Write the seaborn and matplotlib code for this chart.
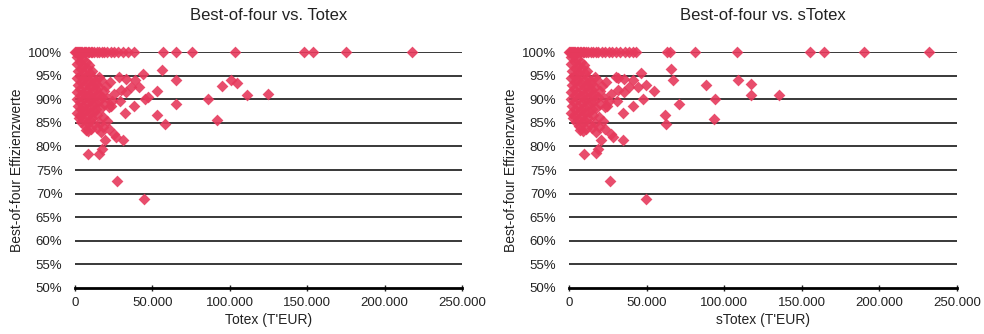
import numpy as np
import matplotlib
matplotlib.use("Agg")
import matplotlib.pyplot as plt
import matplotlib.ticker as mticker
import seaborn as sns

# Best-of-four efficiency (%) vs. Totex / sTotex (T'EUR)

# points on the 100% line
top_totex = [300, 800, 1200, 1800, 2500, 3200, 4000, 4800, 5600, 6500, 7400, 8300, 9200,
             10200, 11300, 12500, 14000, 15500, 17200, 19000, 21000, 23000, 25500, 28000,
             31000, 34000, 38200, 56600, 65000, 75600, 103500, 148000, 154000, 175000, 217600]
top_stotex = [300, 800, 1300, 1900, 2600, 3400, 4200, 5100, 6000, 7000, 8000, 9000, 10000,
              11200, 12500, 14000, 15600, 17300, 19000, 21000, 23200, 25500, 28000, 30500,
              33000, 35800, 38500, 41000, 43500, 63000, 65000, 81000, 108000, 155000,
              164000, 190000, 232000]

# dense cluster + scattered points below 100%
totex = [1000, 1500, 2000, 1200, 1800, 1000, 1500, 2000, 1200, 2500,
         3000, 3500, 4000, 3200, 3800, 3000, 3600, 3100, 3900, 3300, 4200,
         5000, 5500, 6000, 5200, 5800, 5100, 5700, 5300, 6100, 5500, 6300, 6800,
         7200, 7800, 7000, 7500, 8000, 7300, 7900, 7100, 7700, 8300,
         9000, 9500, 9200, 9800, 9100, 9600, 9300, 10000, 9400,
         11000, 11500, 11200, 11800, 11100, 11600, 12000, 11300, 12500,
         13000, 13500, 14000, 13200, 13800, 14500,
         15500, 16000, 15200, 16500, 17000, 17500, 18500, 19000, 20000, 21000,
         22500, 23000, 18000, 20500, 16000, 14000, 10500, 8500,
         56000, 65000, 44000, 95000, 101000, 104600, 111000, 125000, 86000, 91600,
         65000, 53000, 58000, 53000, 47000, 45000, 38000, 32000, 27400, 44700,
         8600, 15600, 17700, 19400, 16600, 22000, 25300, 30700, 26400, 18000,
         39000, 33000, 28500, 36000, 29600, 25300, 24000, 41500, 33000, 29000, 22000,
         15600, 13400]
eff_totex = [99.0, 97.5, 96.0, 94.5, 93.0, 91.5, 90.0, 88.5, 87.0, 86.0,
             99.2, 97.8, 96.4, 95.0, 93.6, 92.2, 90.8, 89.4, 88.0, 86.6, 85.2,
             98.6, 97.0, 95.6, 94.2, 92.8, 91.4, 90.0, 88.6, 87.2, 85.8, 84.4, 83.5,
             98.0, 96.6, 95.0, 93.4, 92.0, 90.6, 89.2, 87.8, 86.4, 85.0,
             97.2, 95.6, 94.0, 92.6, 91.2, 89.8, 88.4, 87.0, 85.6,
             96.0, 94.6, 93.0, 91.6, 90.2, 88.8, 87.4, 86.0, 84.8,
             93.8, 92.2, 90.8, 89.4, 88.0, 86.6,
             92.6, 91.0, 89.6, 88.2, 94.0, 90.4, 91.8, 89.0, 92.8, 90.2,
             93.6, 88.6, 86.2, 85.4, 85.0, 84.0, 83.8, 83.2,
             96.3, 94.1, 95.4, 92.9, 94.0, 93.4, 90.8, 91.2, 90.1, 85.7,
             89.0, 86.6, 84.8, 91.7, 90.5, 90.0, 88.5, 87.1, 72.6, 68.9,
             78.4, 78.4, 79.5, 81.3, 83.0, 83.7, 82.7, 81.3, 82.0, 84.1,
             94.0, 94.3, 94.7, 92.7, 91.9, 91.2, 89.7, 92.7, 91.5, 89.7, 88.3,
             94.7, 93.3]

stotex = [1000, 1600, 2100, 1300, 1900, 1100, 1600, 2100, 1300, 2700,
          3200, 3700, 4300, 3400, 4000, 3200, 3800, 3300, 4100, 3500, 4500,
          5300, 5800, 6400, 5500, 6200, 5400, 6100, 5600, 6500, 5800, 6700, 7200,
          7700, 8300, 7400, 8000, 8500, 7800, 8400, 7600, 8200, 8800,
          9600, 10100, 9800, 10400, 9700, 10200, 9900, 10600, 10000,
          11700, 12200, 11900, 12600, 11800, 12300, 12800, 12000, 13300,
          13800, 14400, 14900, 14100, 14700, 15400,
          16500, 17000, 16200, 17600, 18100, 18600, 19700, 20200, 21300, 22400,
          24000, 24500, 19200, 21800, 17000, 14900, 11200, 9100,
          65500, 67000, 46600, 88400, 94400, 93300, 108800, 117400, 117400, 135600,
          71200, 61600, 62200, 49800, 55000, 47600, 41200, 34800, 31500, 26200, 49400,
          9700, 17200, 19000, 20700, 17700, 23400, 27000, 34800, 28100, 19200,
          41500, 35200, 30400, 38400, 31500, 27000, 25600, 44200, 35200, 30900, 23400,
          16600, 14300]
eff_stotex = [99.0, 97.5, 96.0, 94.5, 93.0, 91.5, 90.0, 88.5, 87.0, 86.0,
              99.2, 97.8, 96.4, 95.0, 93.6, 92.2, 90.8, 89.4, 88.0, 86.6, 85.2,
              98.6, 97.0, 95.6, 94.2, 92.8, 91.4, 90.0, 88.6, 87.2, 85.8, 84.4, 83.5,
              98.0, 96.6, 95.0, 93.4, 92.0, 90.6, 89.2, 87.8, 86.4, 85.0,
              97.2, 95.6, 94.0, 92.6, 91.2, 89.8, 88.4, 87.0, 85.6,
              96.0, 94.6, 93.0, 91.6, 90.2, 88.8, 87.4, 86.0, 84.8,
              93.8, 92.2, 90.8, 89.4, 88.0, 86.6,
              92.6, 91.0, 89.6, 88.2, 94.0, 90.4, 91.8, 89.0, 92.8, 90.2,
              93.6, 88.6, 86.2, 85.4, 85.0, 84.0, 83.8, 83.2,
              96.5, 94.1, 95.5, 93.1, 90.1, 85.8, 94.1, 93.3, 90.8, 91.0,
              88.9, 86.7, 84.8, 93.0, 91.7, 90.1, 88.5, 87.1, 94.5, 72.6, 68.9,
              78.3, 78.5, 79.5, 81.3, 83.0, 83.7, 82.7, 81.3, 82.0, 84.1,
              94.0, 94.3, 94.7, 92.7, 91.9, 91.2, 89.7, 92.7, 91.5, 89.7, 88.3,
              94.7, 93.3]

panels = [
    ("Best-of-four vs. Totex", "Totex (T'EUR)", top_totex, totex, eff_totex),
    ("Best-of-four vs. sTotex", "sTotex (T'EUR)", top_stotex, stotex, eff_stotex),
]

sns.set_theme(style="white")
plt.rcParams['font.family'] = ['Liberation Sans', 'DejaVu Sans']

fig = plt.figure(figsize=(9.84, 3.34), dpi=100)
axes = [fig.add_axes([0.0762, 0.138, 0.3933, 0.706]),
        fig.add_axes([0.5782, 0.138, 0.3944, 0.706])]

red = '#e6395c'
txt = '#222222'
for ax, (title, xlabel, top_x, xs, ys) in zip(axes, panels):
    xx = list(top_x) + list(xs)
    yy = [100.0] * len(top_x) + list(ys)
    sns.scatterplot(x=xx, y=yy, ax=ax, marker='D', color=red, s=36,
                    linewidth=0, alpha=0.9, clip_on=False, zorder=3)
    ax.set_xlim(0, 250000)
    ax.set_ylim(50, 100)
    ax.set_yticks(np.arange(50, 101, 5))
    ax.set_xticks(np.arange(0, 250001, 50000))
    ax.yaxis.set_major_formatter(mticker.FuncFormatter(lambda v, p: f"{v:.0f}%"))
    ax.xaxis.set_major_formatter(
        mticker.FuncFormatter(lambda v, p: f"{v:,.0f}".replace(",", ".")))
    for yv in np.arange(55, 101, 5):
        ax.axhline(yv, color='#383838', lw=1.4, zorder=1)
    for s in ['top', 'right', 'left']:
        ax.spines[s].set_visible(False)
    ax.spines['bottom'].set_color('black')
    ax.spines['bottom'].set_linewidth(2)
    ax.tick_params(axis='x', bottom=True, direction='inout', length=5, width=1,
                   labelsize=9.5, pad=4, colors=txt)
    ax.tick_params(axis='y', left=False, length=0, labelsize=9.5, pad=9, colors=txt)
    ax.set_title(title, fontsize=12, color=txt, pad=23)
    ax.set_xlabel(xlabel, fontsize=10, color=txt, labelpad=3)
    ax.set_ylabel("Best-of-four Effizienzwerte", fontsize=10, color=txt,
                  labelpad=3)

fig.savefig("out.png", dpi=100, facecolor='white')
